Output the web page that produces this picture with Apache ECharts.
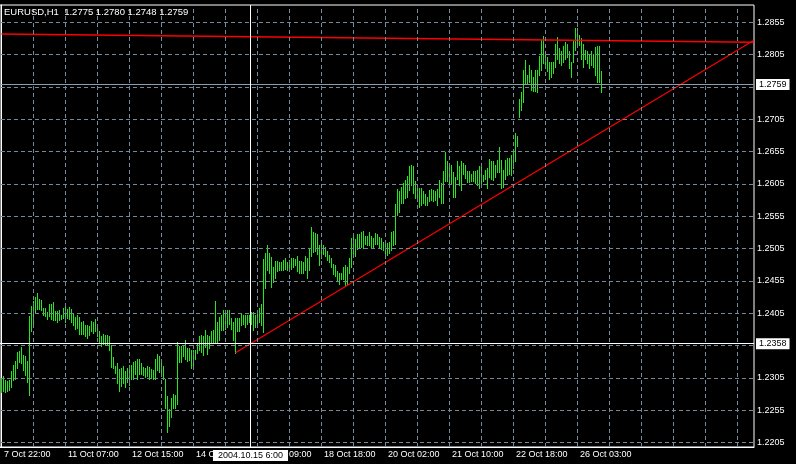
<!DOCTYPE html>
<html>
<head>
<meta charset="utf-8">
<script src="https://cdn.jsdelivr.net/npm/echarts@6/dist/echarts.min.js"></script>
<style>
  html, body { margin: 0; padding: 0; background: #000; }
  #chart { width: 796px; height: 464px; }
</style>
</head>
<body>
<div id="chart"></div>
<script>
const symbol = 'EURUSD,H1'
const lastBar = [1.2775, 1.2780, 1.2748, 1.2759]

// hourly bars (high / low only, MT4 line-bar mode)
const highs = [
  1.2304, 1.2308, 1.2302, 1.2300, 1.2302, 1.2316, 1.2325, 1.2331, 1.2345, 1.2347,
  1.2353, 1.2341, 1.2339, 1.2331, 1.2401, 1.2416, 1.2424, 1.2430, 1.2436, 1.2427,
  1.2426, 1.2413, 1.2413, 1.2407, 1.2419, 1.2420, 1.2422, 1.2409, 1.2408, 1.2410,
  1.2403, 1.2413, 1.2420, 1.2412, 1.2414, 1.2412, 1.2405, 1.2399, 1.2403, 1.2399,
  1.2392, 1.2393, 1.2387, 1.2387, 1.2385, 1.2393, 1.2391, 1.2396, 1.2388, 1.2378,
  1.2370, 1.2373, 1.2372, 1.2372, 1.2370, 1.2356, 1.2338, 1.2323, 1.2328, 1.2319,
  1.2320, 1.2324, 1.2316, 1.2321, 1.2325,
  1.2325, 1.2329, 1.2331, 1.2334, 1.2334, 1.2328, 1.2322, 1.2320, 1.2323, 1.2322,
  1.2319, 1.2317, 1.2334, 1.2342, 1.2339, 1.2335, 1.2323, 1.2304, 1.2277, 1.2257,
  1.2274, 1.2280, 1.2279, 1.2360, 1.2354, 1.2354, 1.2354, 1.2364, 1.2352, 1.2351,
  1.2348, 1.2348, 1.2348, 1.2357, 1.2370, 1.2371, 1.2370, 1.2379, 1.2372, 1.2370,
  1.2377, 1.2379, 1.2424, 1.2392, 1.2400, 1.2402, 1.2410, 1.2410, 1.2410, 1.2410,
  1.2397, 1.2392, 1.2397, 1.2397, 1.2398, 1.2405, 1.2402, 1.2402, 1.2402, 1.2402,
  1.2407, 1.2407, 1.2402, 1.2408, 1.2413,
  1.2420, 1.2489, 1.2499, 1.2511, 1.2498, 1.2492, 1.2477, 1.2486, 1.2486, 1.2485,
  1.2485, 1.2487, 1.2490, 1.2485, 1.2487, 1.2490, 1.2490, 1.2489, 1.2493, 1.2486,
  1.2486, 1.2485, 1.2493, 1.2490, 1.2505, 1.2538, 1.2531, 1.2529, 1.2528, 1.2511,
  1.2512, 1.2511, 1.2507, 1.2501, 1.2495, 1.2490, 1.2481, 1.2480, 1.2470, 1.2468,
  1.2467, 1.2477, 1.2479, 1.2476, 1.2491, 1.2522, 1.2524, 1.2520, 1.2527, 1.2527,
  1.2531, 1.2532, 1.2525, 1.2525, 1.2531, 1.2525, 1.2521, 1.2529, 1.2527,
  1.2523, 1.2522, 1.2516, 1.2515, 1.2513, 1.2516, 1.2531, 1.2532, 1.2574, 1.2597,
  1.2594, 1.2601, 1.2607, 1.2611, 1.2618, 1.2633, 1.2634, 1.2633, 1.2610, 1.2603,
  1.2599, 1.2598, 1.2594, 1.2589, 1.2585, 1.2596, 1.2597, 1.2596, 1.2594, 1.2597,
  1.2611, 1.2606, 1.2625, 1.2655, 1.2640, 1.2632, 1.2634, 1.2624, 1.2616, 1.2641,
  1.2633, 1.2640, 1.2638, 1.2635, 1.2625, 1.2625, 1.2621, 1.2625, 1.2625, 1.2627,
  1.2633, 1.2634, 1.2619, 1.2627, 1.2630, 1.2644, 1.2641, 1.2640, 1.2635, 1.2642,
  1.2662, 1.2642, 1.2627,
  1.2642, 1.2645, 1.2645, 1.2650, 1.2655, 1.2684, 1.2679, 1.2736, 1.2748, 1.2781,
  1.2797, 1.2773, 1.2789, 1.2781, 1.2771, 1.2781, 1.2781, 1.2803, 1.2827, 1.2834,
  1.2810, 1.2802, 1.2794, 1.2794, 1.2794, 1.2822, 1.2832, 1.2816, 1.2811, 1.2818,
  1.2824, 1.2822, 1.2811, 1.2794, 1.2827, 1.2846, 1.2846, 1.2835, 1.2830, 1.2822,
  1.2812, 1.2810, 1.2804, 1.2810, 1.2806, 1.2817, 1.2818, 1.2818, 1.2780
]
const lows = [
  1.2283, 1.2285, 1.2283, 1.2285, 1.2287, 1.2291, 1.2302, 1.2304, 1.2320, 1.2329,
  1.2328, 1.2317, 1.2310, 1.2299, 1.2279, 1.2378, 1.2388, 1.2405, 1.2412, 1.2412,
  1.2410, 1.2402, 1.2401, 1.2396, 1.2401, 1.2396, 1.2395, 1.2395, 1.2391, 1.2394,
  1.2396, 1.2397, 1.2392, 1.2398, 1.2396, 1.2392, 1.2387, 1.2380, 1.2382, 1.2373,
  1.2373, 1.2373, 1.2370, 1.2367, 1.2371, 1.2377, 1.2375, 1.2378, 1.2370, 1.2361,
  1.2355, 1.2358, 1.2358, 1.2358, 1.2348, 1.2322, 1.2321, 1.2312, 1.2297, 1.2285,
  1.2292, 1.2297, 1.2291, 1.2299, 1.2294,
  1.2303, 1.2304, 1.2311, 1.2303, 1.2311, 1.2311, 1.2310, 1.2307, 1.2308, 1.2304,
  1.2305, 1.2304, 1.2304, 1.2318, 1.2314, 1.2310, 1.2304, 1.2259, 1.2222, 1.2231,
  1.2245, 1.2259, 1.2259, 1.2265, 1.2330, 1.2330, 1.2339, 1.2335, 1.2331, 1.2333,
  1.2320, 1.2319, 1.2335, 1.2343, 1.2348, 1.2345, 1.2340, 1.2353, 1.2342, 1.2351,
  1.2359, 1.2359, 1.2361, 1.2359, 1.2364, 1.2379, 1.2379, 1.2381, 1.2384, 1.2389,
  1.2381, 1.2364, 1.2344, 1.2377, 1.2378, 1.2387, 1.2389, 1.2384, 1.2388, 1.2392,
  1.2388, 1.2379, 1.2384, 1.2387, 1.2392,
  1.2387, 1.2376, 1.2444, 1.2472, 1.2467, 1.2446, 1.2454, 1.2460, 1.2470, 1.2472,
  1.2472, 1.2472, 1.2474, 1.2472, 1.2477, 1.2474, 1.2476, 1.2479, 1.2470, 1.2468,
  1.2467, 1.2467, 1.2472, 1.2460, 1.2472, 1.2494, 1.2500, 1.2501, 1.2496, 1.2480,
  1.2491, 1.2496, 1.2493, 1.2487, 1.2484, 1.2477, 1.2465, 1.2462, 1.2457, 1.2450,
  1.2458, 1.2458, 1.2449, 1.2451, 1.2467, 1.2477, 1.2498, 1.2493, 1.2505, 1.2506,
  1.2508, 1.2506, 1.2512, 1.2510, 1.2511, 1.2506, 1.2508, 1.2512, 1.2512,
  1.2508, 1.2504, 1.2503, 1.2490, 1.2495, 1.2498, 1.2503, 1.2511, 1.2512, 1.2557,
  1.2562, 1.2575, 1.2575, 1.2583, 1.2585, 1.2596, 1.2604, 1.2591, 1.2583, 1.2580,
  1.2570, 1.2572, 1.2575, 1.2573, 1.2572, 1.2578, 1.2580, 1.2579, 1.2580, 1.2572,
  1.2585, 1.2576, 1.2576, 1.2610, 1.2609, 1.2603, 1.2606, 1.2585, 1.2585, 1.2613,
  1.2604, 1.2596, 1.2621, 1.2614, 1.2608, 1.2608, 1.2609, 1.2609, 1.2606, 1.2604,
  1.2599, 1.2604, 1.2609, 1.2613, 1.2599, 1.2616, 1.2613, 1.2611, 1.2616, 1.2624,
  1.2624, 1.2598, 1.2601,
  1.2612, 1.2619, 1.2620, 1.2619, 1.2629, 1.2641, 1.2663, 1.2708, 1.2720, 1.2732,
  1.2760, 1.2761, 1.2763, 1.2751, 1.2749, 1.2749, 1.2748, 1.2774, 1.2782, 1.2792,
  1.2791, 1.2779, 1.2768, 1.2770, 1.2776, 1.2786, 1.2799, 1.2792, 1.2789, 1.2794,
  1.2799, 1.2802, 1.2784, 1.2770, 1.2794, 1.2812, 1.2817, 1.2820, 1.2799, 1.2786,
  1.2798, 1.2792, 1.2784, 1.2789, 1.2786, 1.2773, 1.2763, 1.2763, 1.2748
]

// one time label every 32 bars
const timeLabels = ['7 Oct 22:00', '11 Oct 07:00', '12 Oct 15:00', '14 Oct 01:00', '15 Oct 09:00',
  '18 Oct 18:00', '20 Oct 02:00', '21 Oct 10:00', '22 Oct 18:00', '26 Oct 03:00']
const priceTicks = [1.2205, 1.2255, 1.2305, 1.2355, 1.2405, 1.2455, 1.2505,
  1.2555, 1.2605, 1.2655, 1.2705, 1.2755, 1.2805, 1.2855]

// trend lines drawn on the chart: [bar index, price]
const trendFlat = [[0, 1.2837], [376, 1.2824]]
const trendUp = [[117, 1.2344], [376, 1.2827]]

const crossBar = 124.5
const crossTime = '2004.10.15 6:00'
const crossPrice = 1.2358
const bidPrice = lastBar[3]

const slots = 377
const yMin = 1.21982, yMax = 1.28818
const barColor = '#22e81c'
const gridColor = '#778899'
const font = 'Liberation Sans, Arial, sans-serif'

const categories = []
for (let i = 0; i < slots; i++) categories.push(String(i))
const bars = highs.map((h, i) => [i, lows[i], h])
const labelAt = i => i % 32 === 0 && i / 32 < timeLabels.length
const vGrid = []
for (let i = 16; i < slots - 1; i += 16) vGrid.push({ xAxis: i })

const chart = echarts.init(document.getElementById('chart'))
chart.setOption({
  backgroundColor: '#000',
  animation: false,
  title: {
    text: symbol + '  ' + lastBar.map(v => v.toFixed(4)).join(' '),
    left: 4, top: 7, padding: 0,
    textStyle: { color: '#fff', fontSize: 9.5, fontWeight: 'normal', fontFamily: font }
  },
  grid: {
    left: 0, top: 5, width: 754, height: 442,
    show: true, borderColor: '#fff', borderWidth: 1, backgroundColor: '#000'
  },
  xAxis: [
    {
      type: 'category',
      data: categories,
      boundaryGap: true,
      axisLine: { lineStyle: { color: '#fff', width: 1 } },
      axisTick: { alignWithLabel: true, interval: labelAt, length: 4, lineStyle: { color: '#fff' } },
      axisLabel: {
        interval: labelAt,
        formatter: (v, i) => timeLabels[i / 32] || '',
        align: 'left', padding: [0, 0, 0, 3], margin: 3,
        color: '#fff', fontSize: 9, fontFamily: font
      },
      splitLine: { show: false }
    },
    { type: 'value', min: -0.75, max: slots - 0.75, show: false }
  ],
  yAxis: {
    type: 'value', position: 'right', min: yMin, max: yMax,
    axisLine: { show: true, lineStyle: { color: '#fff', width: 1 } },
    axisTick: { show: true, customValues: priceTicks, length: 3, lineStyle: { color: '#fff' } },
    axisLabel: {
      customValues: priceTicks, formatter: v => v.toFixed(4), margin: 3,
      color: '#fff', fontSize: 9, fontFamily: font
    },
    splitLine: { show: false }
  },
  series: [
    {
      name: 'grid', type: 'line', xAxisIndex: 1, z: 1,
      data: [[0, yMin]], showSymbol: false, lineStyle: { opacity: 0 },
      markLine: {
        silent: true, symbol: 'none', precision: 5, label: { show: false },
        lineStyle: { color: gridColor, type: [4, 3], width: 1 },
        data: vGrid.concat(priceTicks.map(p => ({ yAxis: p })))
      }
    },
    {
      name: 'bars', type: 'custom', xAxisIndex: 0, z: 2,
      data: bars,
      encode: { x: 0, y: [1, 2] },
      renderItem: (params, api) => {
        const top = api.coord([api.value(0), api.value(2)])
        const bot = api.coord([api.value(0), api.value(1)])
        const y0 = Math.round(top[1])
        return {
          type: 'rect',
          shape: { x: Math.floor(top[0] + 0.25), y: y0, width: 1, height: Math.max(1, Math.round(bot[1]) - y0 + 1) },
          style: { fill: barColor }
        }
      }
    },
    {
      name: 'bid', type: 'line', xAxisIndex: 1, z: 3,
      data: [[0, bidPrice]], showSymbol: false, lineStyle: { opacity: 0 },
      markLine: {
        silent: true, symbol: 'none', precision: 5,
        lineStyle: { color: '#8c9db0', type: 'solid', width: 1 },
        label: {
          position: 'end', distance: 2, formatter: bidPrice.toFixed(4),
          color: '#000', backgroundColor: '#fff', padding: [1, 3], fontSize: 9, fontFamily: font
        },
        data: [{ yAxis: bidPrice }]
      }
    },
    {
      name: 'trend1', type: 'line', xAxisIndex: 1, z: 4,
      data: trendFlat, showSymbol: false, lineStyle: { color: '#ff0000', width: 1.5 }
    },
    {
      name: 'trend2', type: 'line', xAxisIndex: 1, z: 4,
      data: trendUp, showSymbol: false, lineStyle: { color: '#ff0000', width: 1.2 }
    },
    {
      name: 'cross', type: 'line', xAxisIndex: 1, z: 5,
      data: [[crossBar, crossPrice]], showSymbol: false, lineStyle: { opacity: 0 },
      markLine: {
        silent: true, symbol: 'none', precision: 5,
        lineStyle: { color: '#fff', type: 'solid', width: 1 },
        data: [
          {
            xAxis: crossBar,
            label: {
              position: 'start', distance: 3, formatter: crossTime,
              color: '#000', backgroundColor: '#fff', padding: [1, 5], fontSize: 9, fontFamily: font
            }
          },
          {
            yAxis: crossPrice,
            label: {
              position: 'end', distance: 2, formatter: crossPrice.toFixed(4),
              color: '#000', backgroundColor: '#fff', padding: [1, 3], fontSize: 9, fontFamily: font
            }
          }
        ]
      }
    }
  ]
})
</script>
</body>
</html>
